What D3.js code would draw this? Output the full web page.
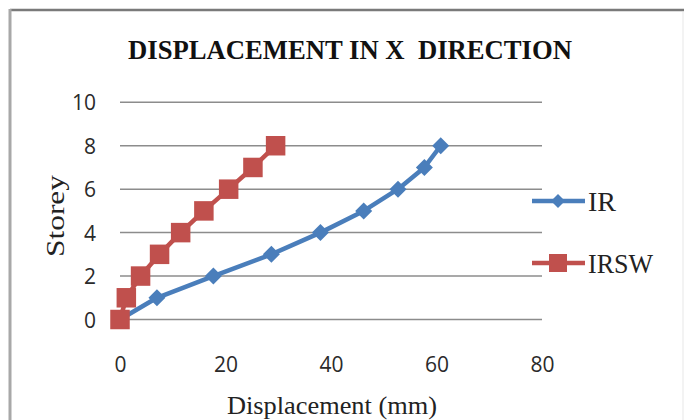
<!DOCTYPE html>
<html>
<head>
<meta charset="utf-8">
<script src="https://cdn.jsdelivr.net/npm/d3@7"></script>
<style>
  html, body { margin: 0; padding: 0; background: #fff; }
  svg { display: block; }
</style>
</head>
<body>
<svg id="chart" width="684" height="420"></svg>
<script>
// Storey drift data: displacement (mm) at each storey level
const storeys = [0, 1, 2, 3, 4, 5, 6, 7, 8];
const irDisp = [0, 7, 17.7, 28.7, 38, 46.2, 52.7, 57.7, 60.8];
const irswDisp = [0, 1.2, 3.9, 7.5, 11.5, 15.9, 20.6, 25.2, 29.5];
const xTicks = [0, 20, 40, 60, 80];
const yTicks = [0, 2, 4, 6, 8, 10];
const seriesNames = ["IR", "IRSW"];
const titleText = "DISPLACEMENT IN X  DIRECTION";
const xTitle = "Displacement (mm)";
const yTitle = "Storey";

const blue = "#4a7ebb";
const red = "#c0504d";

const svg = d3.select("#chart");

// chart frame
svg.append("rect").attr("x", 0).attr("y", 0).attr("width", 684).attr("height", 420).attr("fill", "#fff");
svg.append("line").attr("x1", 10).attr("x2", 684).attr("y1", 10).attr("y2", 10)
  .attr("stroke", "#7a7a7a").attr("stroke-width", 2.5);
svg.append("line").attr("x1", 10).attr("x2", 10).attr("y1", 9).attr("y2", 420)
  .attr("stroke", "#a8a8a8").attr("stroke-width", 3);
svg.append("line").attr("x1", 683).attr("x2", 683).attr("y1", 12).attr("y2", 420)
  .attr("stroke", "#efefef").attr("stroke-width", 1.5);

const x = d3.scaleLinear().domain([0, 80]).range([120, 542]);
const y = d3.scaleLinear().domain([0, 10]).range([319.5, 102.3]);

// horizontal gridlines
svg.append("g").selectAll("line").data(yTicks).join("line")
  .attr("x1", x(0)).attr("x2", x(80))
  .attr("y1", d => y(d)).attr("y2", d => y(d))
  .attr("stroke", "#8c8c8c").attr("stroke-width", 1.5);

const tickFont = "'Open Sans', 'Liberation Sans', sans-serif";

// axes (labels only; domain and tick marks hidden)
const yAxis = svg.append("g").attr("transform", `translate(96,0)`)
  .call(d3.axisLeft(y).tickValues(yTicks).tickSize(0).tickPadding(0));
yAxis.select(".domain").remove();
yAxis.selectAll("text").attr("font-family", tickFont)
  .attr("font-size", 21).attr("fill", "#2a2a2a").attr("dy", "0.36em");

const xAxis = svg.append("g").attr("transform", `translate(0,357)`)
  .call(d3.axisBottom(x).tickValues(xTicks).tickSize(0).tickPadding(0));
xAxis.select(".domain").remove();
xAxis.selectAll("text").attr("font-family", tickFont)
  .attr("font-size", 21).attr("fill", "#2a2a2a").attr("dy", "0.72em");

// title (keeps its double space)
svg.append("text").attr("x", 350).attr("y", 59).attr("text-anchor", "middle")
  .style("white-space", "pre")
  .attr("font-family", "'Liberation Serif', 'Times New Roman', serif")
  .attr("font-weight", "bold").attr("font-size", 28).attr("fill", "#111")
  .attr("textLength", 444).attr("lengthAdjust", "spacingAndGlyphs")
  .text(titleText);

// axis titles
svg.append("text").attr("x", 332).attr("y", 414).attr("text-anchor", "middle")
  .attr("font-family", "'Liberation Serif', 'Times New Roman', serif")
  .attr("font-size", 25).attr("fill", "#222")
  .attr("textLength", 210).attr("lengthAdjust", "spacingAndGlyphs")
  .text(xTitle);

svg.append("text").attr("transform", "translate(64,216) rotate(-90)")
  .attr("text-anchor", "middle")
  .attr("font-family", "'Liberation Serif', 'Times New Roman', serif")
  .attr("font-size", 25).attr("fill", "#222")
  .attr("textLength", 82).attr("lengthAdjust", "spacingAndGlyphs")
  .text(yTitle);

const line = d3.line().x(d => x(d[0])).y(d => y(d[1]));
const irPts = storeys.map((s, i) => [irDisp[i], s]);
const irswPts = storeys.map((s, i) => [irswDisp[i], s]);

// square diamond marker: a square turned 45 degrees
const diamondPath = r => d3.symbol().type(d3.symbolSquare).size(r * r * 2)();
const squarePath = s => d3.symbol().type(d3.symbolSquare).size(s * s)();

// IR series
svg.append("path").datum(irPts).attr("d", line)
  .attr("fill", "none").attr("stroke", blue).attr("stroke-width", 4.5).attr("stroke-linejoin", "round");
svg.append("g").selectAll("path").data(irPts).join("path")
  .attr("transform", d => `translate(${x(d[0])},${y(d[1])}) rotate(45)`)
  .attr("d", diamondPath(8.5)).attr("fill", blue);

// IRSW series
svg.append("path").datum(irswPts).attr("d", line)
  .attr("fill", "none").attr("stroke", red).attr("stroke-width", 4.5).attr("stroke-linejoin", "round");
svg.append("g").selectAll("path").data(irswPts).join("path")
  .attr("transform", d => `translate(${x(d[0])},${y(d[1])})`)
  .attr("d", squarePath(19.5)).attr("fill", red);

// legend
const legend = svg.append("g");
const legendY = [201, 263];
const legendColors = [blue, red];
seriesNames.forEach((name, i) => {
  const g = legend.append("g").attr("transform", `translate(0,${legendY[i]})`);
  g.append("line").attr("x1", 532).attr("x2", 585).attr("y1", 0).attr("y2", 0)
    .attr("stroke", legendColors[i]).attr("stroke-width", 4.5);
  g.append("path")
    .attr("transform", i === 0 ? "translate(558,0) rotate(45)" : "translate(558,0)")
    .attr("d", i === 0 ? diamondPath(7) : squarePath(18))
    .attr("fill", legendColors[i]);
  g.append("text").attr("x", 588).attr("y", 10)
    .attr("font-family", "'Liberation Serif', 'Times New Roman', serif")
    .attr("font-size", 28).attr("fill", "#222")
    .attr("textLength", i === 0 ? 28 : 65).attr("lengthAdjust", "spacingAndGlyphs")
    .text(name);
});
</script>
</body>
</html>
